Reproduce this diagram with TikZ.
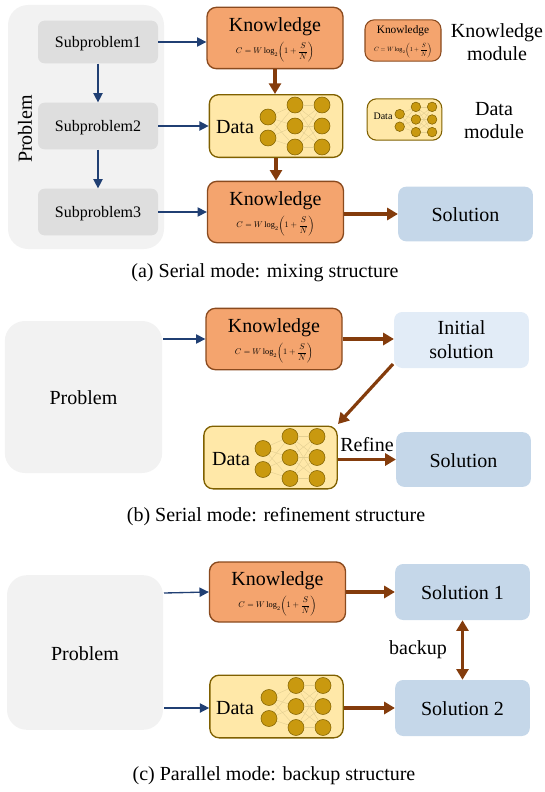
\documentclass[tikz,border=0pt]{standalone}
\usepackage{xcolor}
\usepackage{amsmath}
\usepackage{fontspec}
\setmainfont{Liberation Serif}
\usetikzlibrary{arrows.meta}

\definecolor{knowfill}{HTML}{F4A46E}
\definecolor{knowline}{HTML}{8A4A1E}
\definecolor{datafill}{HTML}{FFE8A8}
\definecolor{dataline}{HTML}{7F6000}
\definecolor{cellfill}{HTML}{C9990F}
\definecolor{cellwire}{HTML}{E3CF92}
\definecolor{probfill}{HTML}{F2F2F2}
\definecolor{subfill}{HTML}{DEDEDE}
\definecolor{solfill}{HTML}{C5D7E9}
\definecolor{initfill}{HTML}{E2ECF7}
\definecolor{navyline}{HTML}{203F73}
\definecolor{brownline}{HTML}{843C0C}

\tikzset{
  boxed/.style={rounded corners=#1, inner sep=0pt, align=center},
  probbox/.style={boxed=15pt, fill=probfill, font=\fontsize{15}{17}\selectfont},
  subbox/.style={boxed=5pt, fill=subfill, font=\fontsize{12}{14}\selectfont, text height=11pt},
  knowbox/.style={boxed=7pt, draw=knowline, fill=knowfill, line width=1pt},
  databox/.style={boxed=7pt, draw=dataline, fill=datafill, line width=1pt},
  solbox/.style={boxed=6pt, fill=solfill, font=\fontsize{15}{17}\selectfont},
  lowtext/.style={text height=12pt},
  cell/.style={circle, draw=dataline, fill=cellfill, inner sep=0pt, line width=0.4pt},
  wire/.style={cellwire, line width=0.3pt},
  navyarrow/.style={-{Triangle[length=7pt,width=7pt]}, navyline, line width=1pt},
  brownarrow/.style={-{Triangle[length=8pt,width=9pt]}, brownline, line width=2.4pt},
  sidetext/.style={inner sep=0pt, align=center, font=\fontsize{15}{17.5}\selectfont},
  captext/.style={inner sep=0pt, font=\fontsize{15}{17}\selectfont},
}

\newcommand{\capacity}[1]{\scalebox{#1}{$C=W\log_2\!\left(1+\dfrac{S}{N}\right)$}}
\newcommand{\knowbody}{\rule{0pt}{13pt}{\fontsize{15}{15}\selectfont Knowledge}\\[3.5pt]\capacity{0.62}}

% neurons: name, centre, scale
\newcommand{\datanet}[3]{
  \begin{scope}[shift={#2}, scale=#3]
    \node[cell, minimum size=#3*12pt] (#1a1) at (-8,-9) {};
    \node[cell, minimum size=#3*12pt] (#1a2) at (-8,12) {};
    \foreach \row/\ypos in {1/-21,2/0,3/21} {
      \node[cell, minimum size=#3*12pt] (#1b\row) at (19,\ypos) {};
      \node[cell, minimum size=#3*12pt] (#1c\row) at (46,\ypos) {};
    }
    \foreach \from in {1,2} \foreach \to in {1,2,3}
      \draw[wire] (#1a\from) -- (#1b\to);
    \foreach \from in {1,2,3} \foreach \to in {1,2,3}
      \draw[wire] (#1b\from) -- (#1c\to);
  \end{scope}
}

\begin{document}
\begin{tikzpicture}[x=0.75pt, y=-0.75pt]
  \useasboundingbox (0,0) rectangle (545,792);

  %% serial: mixing
  \node[probbox, minimum width=117pt, minimum height=183pt] (probA) at (86,127) {};
  \node[sidetext, rotate=90] (probAtext) at (25,129) {Problem};
  \node[subbox, minimum width=90pt, minimum height=32pt] (subA) at (98,42) {Subproblem1};
  \node[subbox, minimum width=90pt, minimum height=35pt] (subB) at (98,126) {Subproblem2};
  \node[subbox, minimum width=90pt, minimum height=35pt] (subC) at (98,212) {Subproblem3};

  \node[knowbox, minimum width=102pt, minimum height=46pt] (knowA) at (275,38) {\knowbody};
  \node[databox, minimum width=100pt, minimum height=47pt] (dataA) at (276,126) {};
  \node[sidetext] (dataAtext) at (235,127) {Data};
  \datanet{nA}{(276,126)}{1}
  \node[knowbox, minimum width=102pt, minimum height=46pt] (knowB) at (275.5,212) {\knowbody};
  \node[solbox, lowtext, minimum width=101pt, minimum height=41pt] (solA) at (465.5,214) {Solution};

  \draw[navyarrow] (subA.east) -- (knowA.west |- subA.east);
  \draw[navyarrow] (subB.east) -- (dataA.west |- subB.east);
  \draw[navyarrow] (subC.east) -- (knowB.west |- subC.east);
  \draw[navyarrow] (subA.south) -- (subB.north);
  \draw[navyarrow] (subB.south) -- (subC.north);
  \draw[brownarrow] (knowA.south) -- (knowA.south |- dataA.north);
  \draw[brownarrow] (dataA.south) -- (dataA.south |- knowB.north);
  \draw[brownarrow] (knowB.east |- solA.west) -- (solA.west);

  %% legend
  \node[knowbox, minimum width=57pt, minimum height=31pt, line width=0.8pt] (knowL) at (403,40.5)
    {\rule{0pt}{8pt}{\fontsize{8.5}{8.5}\selectfont Knowledge}\\[1.5pt]\capacity{0.46}};
  \node[sidetext] (knowLtext) at (497,42) {Knowledge\\module};
  \node[databox, minimum width=56pt, minimum height=31pt, line width=0.8pt] (dataL) at (404.5,119.5) {};
  \node[sidetext, font=\fontsize{7.5}{7.5}\selectfont] (dataLtext) at (383,116.5) {Data};
  \datanet{nL}{(404.5,119.5)}{0.6}
  \node[sidetext] (dataLlabel) at (494,120.5) {Data\\module};

  \node[captext] (capA) at (265,273) {(a) Serial mode: mixing structure};

  %% serial: refinement
  \node[probbox, lowtext, minimum width=118pt, minimum height=114pt] (probB) at (83.5,397) {Problem};
  \node[knowbox, minimum width=102pt, minimum height=46pt] (knowC) at (274,339) {\knowbody};
  \node[solbox, fill=initfill, minimum width=101pt, minimum height=42pt] (initB) at (461.5,340) {Initial\\[1pt]solution};
  \node[databox, minimum width=100pt, minimum height=47pt] (dataB) at (270.5,457.5) {};
  \node[sidetext] (dataBtext) at (231,459) {Data};
  \datanet{nB}{(271,457.5)}{1}
  \node[solbox, lowtext, minimum width=101pt, minimum height=41pt] (solB) at (463.5,459.5) {Solution};
  \node[sidetext] (refine) at (367,445) {Refine};

  \coordinate (probBout) at (163,339);
  \coordinate (initBout) at (393,364);
  \coordinate (dataBin) at (338,424);
  \draw[navyarrow] (probBout) -- (knowC.west);
  \draw[brownarrow] (knowC.east) -- (initB.west |- knowC.east);
  \draw[brownarrow] (initBout) -- (dataBin);
  \draw[brownarrow] (dataB.east |- solB.west) -- (solB.west);

  \node[captext] (capB) at (276,517) {(b) Serial mode: refinement structure};

  %% parallel: backup
  \node[probbox, lowtext, minimum width=117pt, minimum height=116pt] (probC) at (85,652.5) {Problem};
  \node[knowbox, minimum width=102pt, minimum height=45pt] (knowD) at (277.5,592) {\knowbody};
  \node[databox, minimum width=100pt, minimum height=47pt] (dataC) at (276.5,706.5) {};
  \node[sidetext] (dataCtext) at (235,708) {Data};
  \datanet{nC}{(277,706.5)}{1}
  \node[solbox, lowtext, minimum width=101pt, minimum height=42pt] (solC) at (462.5,592) {Solution 1};
  \node[solbox, lowtext, minimum width=101pt, minimum height=42pt] (solD) at (462.5,708) {Solution 2};
  \node[sidetext] (backup) at (418,650) {backup};

  \coordinate (probCup) at (164,593);
  \coordinate (probCdown) at (164,708);
  \draw[navyarrow] (probCup) -- (knowD.west);
  \draw[navyarrow] (probCdown) -- (dataC.west |- probCdown);
  \draw[brownarrow] (knowD.east) -- (solC.west);
  \draw[brownarrow] (dataC.east |- solD.west) -- (solD.west);
  \draw[brownarrow, {Triangle[length=8pt,width=9pt]}-{Triangle[length=8pt,width=9pt]}] (solC.south) -- (solD.north);

  \node[captext] (capC) at (274,776) {(c) Parallel mode: backup structure};
\end{tikzpicture}
\end{document}
